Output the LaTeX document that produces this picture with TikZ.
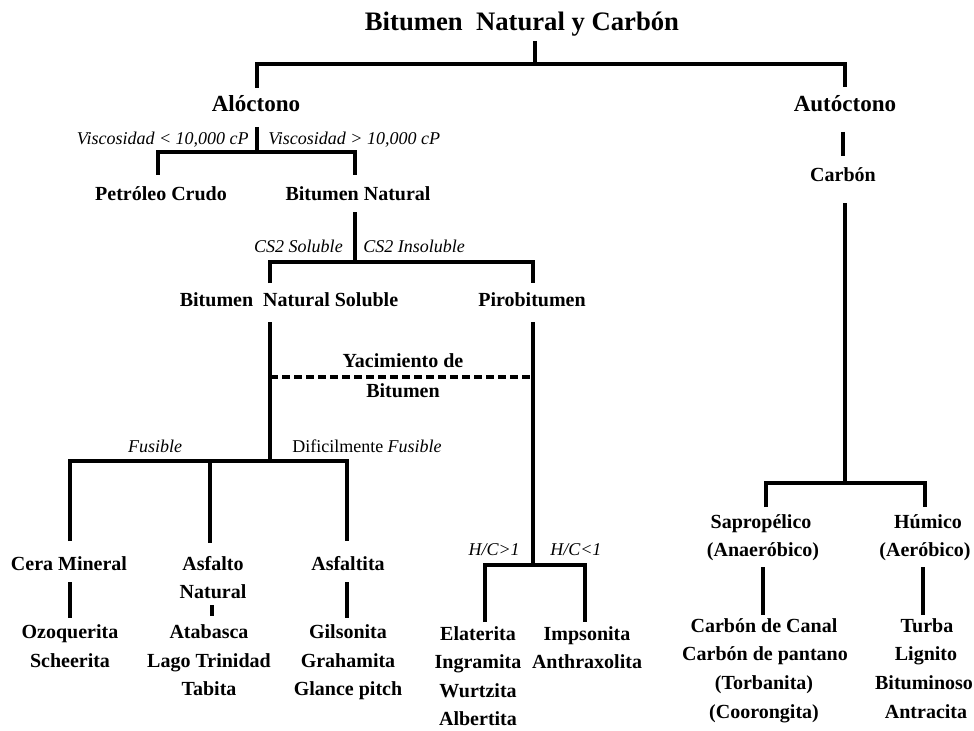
\documentclass[tikz,border=0pt]{standalone}
\usepackage{fontspec}
\setmainfont{Liberation Serif}
\begin{document}
\begin{tikzpicture}[x=0.75pt,y=-0.75pt,
  bnode/.style={font=\fontsize{15}{18}\selectfont\bfseries, inner sep=0pt, anchor=base},
  bignode/.style={font=\fontsize{17.3}{20}\selectfont\bfseries, inner sep=0pt, anchor=base},
  tnode/.style={font=\fontsize{20}{24}\selectfont\bfseries, inner sep=0pt, anchor=base},
  lab/.style={font=\fontsize{13.5}{16}\selectfont\itshape, inner sep=0pt},
  conn/.style={line width=2.4pt, line cap=butt},
  dconn/.style={line width=2.4pt, dash pattern=on 6pt off 3pt}]
\useasboundingbox (0,0) rectangle (974,731);
% ---------- nodes ----------
\node[tnode] (title) at (522,31) {Bitumen\ \ Natural y Carbón};
\node[bignode] (aloc) at (256,112) {Alóctono};
\node[bignode] (autoc) at (845,112) {Autóctono};
\node[bnode] (carbon) at (843,181) {Carbón};
\node[lab, anchor=base east] (vlow) at (249,145) {Viscosidad < 10,000 cP};
\node[lab, anchor=base west] (vhigh) at (268,145) {Viscosidad > 10,000 cP};
\node[bnode] (petro) at (161,200) {Petróleo Crudo};
\node[bnode] (bnat) at (358,200) {Bitumen Natural};
\node[lab, anchor=base east] (cssol) at (343,252) {CS2 Soluble};
\node[lab, anchor=base west] (csins) at (363,252) {CS2 Insoluble};
\node[bnode] (bns) at (289,306) {Bitumen\ \ Natural Soluble};
\node[bnode] (piro) at (532,306) {Pirobitumen};
\node[bnode] (yac1) at (403,367) {Yacimiento de};
\node[bnode] (yac2) at (403,397) {Bitumen};
\node[lab, anchor=base] (fus) at (155,452) {Fusible};
\node[lab, anchor=base west] (dfus) at (292,452) {\upshape Dificilmente \itshape Fusible};
\node[bnode] (cera) at (69,570) {Cera Mineral};
\node[bnode] (ozo) at (70,638) {Ozoquerita};
\node[bnode] (sch) at (70,667) {Scheerita};
\node[bnode] (asf1) at (213,570) {Asfalto};
\node[bnode] (asf2) at (213,598) {Natural};
\node[bnode] (ata) at (209,638) {Atabasca};
\node[bnode] (lago) at (209,667) {Lago Trinidad};
\node[bnode] (tab) at (209,695) {Tabita};
\node[bnode] (asft) at (348,570) {Asfaltita};
\node[bnode] (gil) at (348,638) {Gilsonita};
\node[bnode] (gra) at (348,667) {Grahamita};
\node[bnode] (gla) at (348,695) {Glance pitch};
\node[lab, anchor=base east] (hcg) at (520,555) {H/C>1};
\node[lab, anchor=base west] (hcl) at (550,555) {H/C<1};
\node[bnode] (ela) at (478,640) {Elaterita};
\node[bnode] (ing) at (478,668) {Ingramita};
\node[bnode] (wur) at (478,697) {Wurtzita};
\node[bnode] (alb) at (478,725) {Albertita};
\node[bnode] (imp) at (587,640) {Impsonita};
\node[bnode] (ant) at (587,668) {Anthraxolita};
\node[bnode] (sap1) at (761,528) {Sapropélico};
\node[bnode] (sap2) at (763,556) {(Anaeróbico)};
\node[bnode] (cc) at (764,632) {Carbón de Canal};
\node[bnode] (cp) at (765,660) {Carbón de pantano};
\node[bnode] (tor) at (764,689) {(Torbanita)};
\node[bnode] (coo) at (764,718) {(Coorongita)};
\node[bnode] (hum1) at (928,528) {Húmico};
\node[bnode] (hum2) at (925,556) {(Aeróbico)};
\node[bnode] (tur) at (927,632) {Turba};
\node[bnode] (lig) at (926,660) {Lignito};
\node[bnode] (bit) at (924,689) {Bituminoso};
\node[bnode] (antr) at (926,718) {Antracita};
% ---------- junction coordinates ----------
\coordinate (tS) at (535,41);
\coordinate (tJ) at (535,64);
\coordinate (tL) at (257,64);
\coordinate (tR) at (845,64);
\coordinate (alN) at (257,88);
\coordinate (auN) at (845,87);
\coordinate (alS) at (257,127);
\coordinate (alJ) at (257,152);
\coordinate (peJ) at (158,152);
\coordinate (bnJ) at (355,152);
\coordinate (peN) at (158,175);
\coordinate (bnN) at (355,175);
\coordinate (auS) at (843,132);
\coordinate (caN) at (843,156);
\coordinate (caS) at (845,203);
\coordinate (caJ) at (845,483);
\coordinate (saJ) at (766,483);
\coordinate (huJ) at (925,483);
\coordinate (saN) at (766,507);
\coordinate (huN) at (925,507);
\coordinate (saS) at (763,567);
\coordinate (ccN) at (763,615);
\coordinate (huS) at (923,567);
\coordinate (tuN) at (923,615);
\coordinate (bnS) at (355,212);
\coordinate (bnJ2) at (355,262);
\coordinate (bsJ) at (270,262);
\coordinate (piJ) at (533,262);
\coordinate (bsN) at (270,283);
\coordinate (piN) at (533,283);
\coordinate (bsS) at (270,322);
\coordinate (piS) at (533,322);
\coordinate (dL) at (270,377);
\coordinate (dR) at (533,377);
\coordinate (fJ) at (270,461);
\coordinate (ceJ) at (70,461);
\coordinate (asJ) at (210,461);
\coordinate (atJ) at (347,461);
\coordinate (ceN) at (70,541);
\coordinate (asN) at (210,543);
\coordinate (atN) at (347,541);
\coordinate (ceS) at (70,582);
\coordinate (ozN) at (70,618);
\coordinate (asS) at (212,605);
\coordinate (abN) at (212,616);
\coordinate (atS) at (347,582);
\coordinate (giN) at (347,618);
\coordinate (hJ) at (533,565);
\coordinate (elJ) at (485,565);
\coordinate (imJ) at (585,565);
\coordinate (elN) at (485,622);
\coordinate (imN) at (585,622);
% ---------- connectors ----------
\draw[conn] (tS) -- (tJ);
\draw[conn] (alN) -- (tL) -- (tR) -- (auN);
\draw[conn] (alS) -- (alJ);
\draw[conn] (peN) -- (peJ) -- (bnJ) -- (bnN);
\draw[conn] (auS) -- (caN);
\draw[conn] (caS) -- (caJ);
\draw[conn] (saN) -- (saJ) -- (huJ) -- (huN);
\draw[conn] (saS) -- (ccN);
\draw[conn] (huS) -- (tuN);
\draw[conn] (bnS) -- (bnJ2);
\draw[conn] (bsN) -- (bsJ) -- (piJ) -- (piN);
\draw[conn] (bsS) -- (fJ);
\draw[conn] (piS) -- (hJ);
\draw[dconn] (dL) -- (dR);
\draw[conn] (ceN) -- (ceJ) -- (atJ) -- (atN);
\draw[conn] (asJ) -- (asN);
\draw[conn] (ceS) -- (ozN);
\draw[conn] (asS) -- (abN);
\draw[conn] (atS) -- (giN);
\draw[conn] (elN) -- (elJ) -- (imJ) -- (imN);
\end{tikzpicture}
\end{document}
